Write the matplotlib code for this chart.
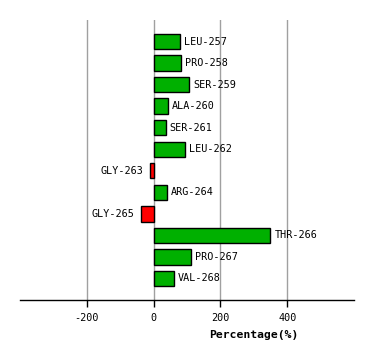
import matplotlib
matplotlib.use("Agg")
import matplotlib.pyplot as plt

residues = ["LEU-257", "PRO-258", "SER-259", "ALA-260", "SER-261", "LEU-262",
            "GLY-263", "ARG-264", "GLY-265", "THR-266", "PRO-267", "VAL-268"]
values = [78, 82, 106, 42, 36, 93, -12, 40, -39, 349, 112, 60]
xticks = [-200, 0, 200, 400]
xlabel = "Percentage(%)"

fig = plt.figure(figsize=(3.74, 3.6), dpi=100)
ax = fig.add_axes([20/374, 60/360, 334/374, 280/360])

ypos = list(range(len(residues)))
colors = ["#00B000" if v >= 0 else "#FF0000" for v in values]
ax.barh(ypos, values, height=0.715, color=colors, edgecolor="black", linewidth=1, zorder=3)

for y, v, name in zip(ypos, values, residues):
    if v >= 0:
        ax.annotate(name, (v, y), xytext=(3, 0), textcoords="offset points",
                    ha="left", va="center", family="DejaVu Sans Mono", fontsize=7.3)
    else:
        ax.annotate(name, (v, y), xytext=(-4.5, 0), textcoords="offset points",
                    ha="right", va="center", family="DejaVu Sans Mono", fontsize=7.3)

ax.set_xlim(-400, 600)
ax.set_ylim(12, -1)
ax.set_xticks(xticks)
ax.set_xticklabels([str(t) for t in xticks], family="DejaVu Sans Mono", fontsize=7.3)
ax.set_yticks([])
ax.tick_params(axis="x", length=5, width=1, color="black", pad=4.5)
for s in ["top", "right", "left"]:
    ax.spines[s].set_visible(False)
ax.spines["bottom"].set_linewidth(1)
ax.xaxis.grid(True, color="#A0A0A0", linewidth=1, zorder=0)
ax.set_axisbelow(True)

fig.text(254/374, 25/360, xlabel, ha="center", va="center",
         family="DejaVu Sans Mono", fontsize=8.2, fontweight="bold")

fig.savefig("out.png", dpi=100)
